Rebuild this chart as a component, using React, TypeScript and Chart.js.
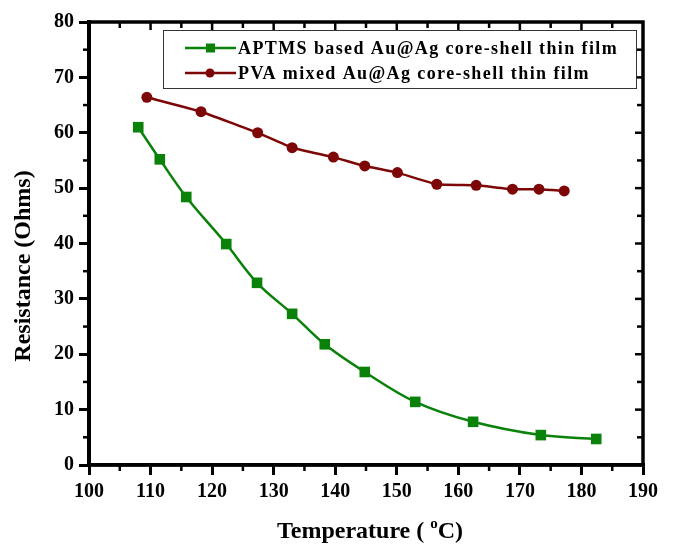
import { useEffect, useRef } from "react";
import { Chart, registerables } from "chart.js";

Chart.register(...registerables);

const temperatureAPTMS = [108.0, 111.5, 115.8, 122.3, 127.3, 133.0, 138.3, 144.8, 153.0, 162.4, 173.4, 182.4];
const resistanceAPTMS = [61.0, 55.2, 48.4, 39.9, 32.9, 27.3, 21.8, 16.8, 11.4, 7.8, 5.4, 4.7];
const temperaturePVA = [109.4, 118.2, 127.4, 133.0, 139.7, 144.8, 150.1, 156.5, 162.9, 168.8, 173.1, 177.2];
const resistancePVA = [66.4, 63.8, 60.0, 57.3, 55.6, 54.0, 52.8, 50.7, 50.5, 49.8, 49.8, 49.5];

const seriesNames = ["APTMS based Au@Ag core-shell thin film", "PVA mixed Au@Ag core-shell thin film"];
const xRange = [100, 190];
const yRange = [0, 80];
const xMajorStep = 10;
const yMajorStep = 10;
const yTitle = "Resistance (Ohms)";
const xTitleParts = ["Temperature ( ", "o", "C)"];

const GREEN = "#0a820a";
const WINE = "#7d0606";
const FONT = '"Liberation Serif", "Times New Roman", serif';

function line(ctx: CanvasRenderingContext2D, x1: number, y1: number, x2: number, y2: number) {
  ctx.beginPath();
  ctx.moveTo(x1, y1);
  ctx.lineTo(x2, y2);
  ctx.stroke();
}

const framePlugin = {
  id: "frame",
  afterDraw(chart: any) {
    const { ctx, chartArea } = chart;
    const { left, right, top, bottom } = chartArea;
    const xs = chart.scales.x;
    const ys = chart.scales.y;
    ctx.save();
    ctx.strokeStyle = "#000";
    ctx.lineWidth = 3.5;
    ctx.strokeRect(left, top, right - left, bottom - top);

    ctx.lineWidth = 2.5;
    for (let v = xRange[0]; v <= xRange[1]; v += xMajorStep / 2) {
      const px = xs.getPixelForValue(v);
      const major = (v - xRange[0]) % xMajorStep === 0;
      if (!major) line(ctx, px, bottom, px, bottom + 6);
      if (v > xRange[0] && v < xRange[1]) line(ctx, px, top, px, top + (major ? 8 : 6));
    }
    for (let v = yRange[0]; v <= yRange[1]; v += yMajorStep / 2) {
      const py = ys.getPixelForValue(v);
      const major = (v - yRange[0]) % yMajorStep === 0;
      if (!major) line(ctx, left, py, left - 6, py);
      if (v > yRange[0] && v < yRange[1]) line(ctx, right, py, right - (major ? 8 : 6), py);
    }

    // legend
    const bx = 163.5, by = 30.5, bw = 473, bh = 58;
    ctx.fillStyle = "#fff";
    ctx.fillRect(bx, by, bw, bh);
    ctx.strokeStyle = "#333";
    ctx.lineWidth = 1;
    ctx.strokeRect(bx, by, bw, bh);
    const entries = [
      { name: seriesNames[0], color: GREEN, y: 48, square: true },
      { name: seriesNames[1], color: WINE, y: 73, square: false },
    ];
    ctx.font = `bold 18px ${FONT}`;
    (ctx as any).letterSpacing = "1.4px";
    ctx.textBaseline = "middle";
    ctx.textAlign = "left";
    for (const e of entries) {
      ctx.strokeStyle = e.color;
      ctx.lineWidth = 2.5;
      line(ctx, 185, e.y, 236, e.y);
      ctx.fillStyle = e.color;
      if (e.square) {
        ctx.fillRect(206, e.y - 4.5, 9, 9);
      } else {
        ctx.beginPath();
        ctx.arc(210, e.y, 4.5, 0, Math.PI * 2);
        ctx.fill();
      }
      ctx.fillStyle = "#000";
      ctx.fillText(e.name, 238, e.y + 1);
    }
    (ctx as any).letterSpacing = "0px";

    // y title
    ctx.save();
    ctx.translate(24, 266);
    ctx.rotate(-Math.PI / 2);
    ctx.font = `bold 24px ${FONT}`;
    ctx.textAlign = "center";
    ctx.textBaseline = "middle";
    ctx.fillStyle = "#000";
    ctx.fillText(yTitle, 0, 0);
    ctx.restore();

    // x title with superscript
    const bigFont = `bold 24px ${FONT}`;
    const smallFont = `bold 15px ${FONT}`;
    ctx.font = bigFont;
    const w1 = ctx.measureText(xTitleParts[0]).width;
    const w3 = ctx.measureText(xTitleParts[2]).width;
    ctx.font = smallFont;
    const w2 = ctx.measureText(xTitleParts[1]).width;
    const total = w1 + w2 + w3;
    let tx = 370 - total / 2;
    const base = 538;
    ctx.fillStyle = "#000";
    ctx.textAlign = "left";
    ctx.textBaseline = "alphabetic";
    ctx.font = bigFont;
    ctx.fillText(xTitleParts[0], tx, base);
    tx += w1;
    ctx.font = smallFont;
    ctx.fillText(xTitleParts[1], tx, base - 10);
    tx += w2;
    ctx.font = bigFont;
    ctx.fillText(xTitleParts[2], tx, base);
    ctx.restore();
  },
};

export default function App() {
  const ref = useRef<HTMLCanvasElement | null>(null);
  useEffect(() => {
    if (!ref.current) return;
    const chart = new Chart(ref.current, {
      type: "line",
      data: {
        datasets: [
          {
            label: seriesNames[0],
            data: temperatureAPTMS.map((t, i) => ({ x: t, y: resistanceAPTMS[i] })),
            borderColor: GREEN,
            backgroundColor: GREEN,
            borderWidth: 2.5,
            pointStyle: "rect",
            pointRadius: 7.5,
            pointBorderWidth: 0,
            tension: 0.35,
          },
          {
            label: seriesNames[1],
            data: temperaturePVA.map((t, i) => ({ x: t, y: resistancePVA[i] })),
            borderColor: WINE,
            backgroundColor: WINE,
            borderWidth: 2.5,
            pointStyle: "circle",
            pointRadius: 5.5,
            pointBorderWidth: 0,
            tension: 0.1,
          },
        ],
      },
      options: {
        responsive: false,
        animation: false,
        devicePixelRatio: 1,
        layout: { padding: { top: 22, right: 33, left: 0, bottom: 0 } },
        plugins: { legend: { display: false }, tooltip: { enabled: false } },
        scales: {
          x: {
            type: "linear",
            min: xRange[0],
            max: xRange[1],
            afterFit: (s: any) => { s.height = 79; },
            ticks: {
              stepSize: xMajorStep,
              autoSkip: false,
              maxRotation: 0,
              padding: 5,
              color: "#000",
              font: { family: FONT, size: 20, weight: "bold" },
            },
            grid: { drawOnChartArea: false, drawTicks: true, tickLength: 10, color: "#000", lineWidth: 3 },
            border: { display: true, width: 3.5, color: "#000" },
          },
          y: {
            type: "linear",
            min: yRange[0],
            max: yRange[1],
            afterFit: (s: any) => { s.width = 89; },
            ticks: {
              stepSize: yMajorStep,
              padding: 5,
              color: "#000",
              font: { family: FONT, size: 20, weight: "bold" },
            },
            grid: { drawOnChartArea: false, drawTicks: true, tickLength: 10, color: "#000", lineWidth: 3 },
            border: { display: true, width: 4, color: "#000" },
          },
        },
      },
      plugins: [framePlugin],
    });
    return () => chart.destroy();
  }, []);
  return (
    <div style={{ position: "absolute", left: 0, top: 0, width: 676, height: 544, background: "#fff" }}>
      <canvas ref={ref} width={676} height={544} />
    </div>
  );
}
